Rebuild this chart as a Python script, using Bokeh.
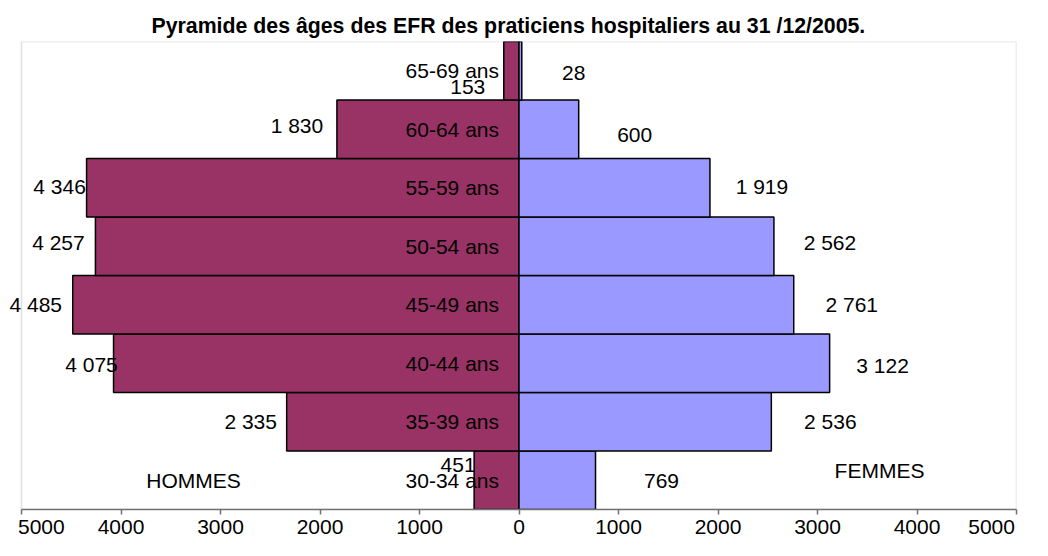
from bokeh.plotting import figure
from bokeh.models import (Range1d, FactorRange, FixedTicker, ColumnDataSource, LabelSet,
                          BoxAnnotation)
from bokeh.core.properties import value
from bokeh.embed import file_html
from bokeh.resources import INLINE

# ---- data (bottom -> top) ----
ages = ["30-34 ans", "35-39 ans", "40-44 ans", "45-49 ans",
        "50-54 ans", "55-59 ans", "60-64 ans", "65-69 ans"]
hommes = [451, 2335, 4075, 4485, 4257, 4346, 1830, 153]
femmes = [769, 2536, 3122, 2761, 2562, 1919, 600, 28]
hommes_labels = ["451", "2 335", "4 075", "4 485", "4 257", "4 346", "1 830", "153"]
femmes_labels = ["769", "2 536", "3 122", "2 761", "2 562", "1 919", "600", "28"]
tick_values = [-5000, -4000, -3000, -2000, -1000, 0, 1000, 2000, 3000, 4000, 5000]
sexes = ["HOMMES", "FEMMES"]
title_text = "Pyramide des âges des EFR des praticiens hospitaliers au 31 /12/2005."

# label placement tweaks (pixels, positive = right / down), imitating the original layout
h_dx = [-16, -36, -22, -37, -37, -27, -40, -36]
h_dy = [-15, 0, 1, 0, -4, -1, -4, 16]
f_dx = [66, 59, 53, 58, 56, 52, 56, 52]
f_dy = [1, 0, 2, 0, -4, -1, 6, 2]
sex_x = [-3271, 3623]
sex_dy = [0, -10]

FONT = "Liberation Sans"
FS = "21px"
MEN = "#993366"
WOMEN = "#9999FF"

# layout: plot box from x=21 to x=1016 px; frame extends a bit further left
# so that labels overlapping the box's left edge are not clipped
XMIN, XMAX = -5000, 5000
BOX_LEFT, BOX_RIGHT, FRAME_LEFT = 21, 1016, 2
px_per_unit = (BOX_RIGHT - BOX_LEFT) / (XMAX - XMIN)
x_start = XMIN - (BOX_LEFT - FRAME_LEFT) / px_per_unit

src = ColumnDataSource(dict(
    age=ages,
    h_neg=[-v for v in hommes],
    f=femmes,
    h_lab=hommes_labels,
    f_lab=femmes_labels,
    h_dx=h_dx, h_dy=[-d for d in h_dy],
    f_dx=f_dx, f_dy=[-d for d in f_dy],
    zero=[0] * len(ages),
))
sex_src = ColumnDataSource(dict(x=sex_x, y=[ages[0]] * 2, text=sexes,
                                dy=[-d for d in sex_dy]))

p = figure(width=1032, height=540, output_backend="svg", toolbar_location=None,
           x_range=Range1d(x_start, XMAX), y_range=FactorRange(*ages),
           y_axis_location=None, tools="")
p.min_border_left = FRAME_LEFT
p.min_border_right = 1032 - BOX_RIGHT
p.min_border_top = 41
p.min_border_bottom = 29

p.title.text = title_text
p.title.text_font = FONT
p.title.text_font_size = "21.3px"
p.title.text_font_style = "bold"
p.title.text_color = "black"
p.title.align = "left"
p.title.offset = 151 - FRAME_LEFT
p.title.standoff = 8

p.grid.visible = False
p.outline_line_color = None
p.background_fill_color = "white"
p.border_fill_color = "white"

# plot-area border (grey box from -5000 to 5000)
p.add_layout(BoxAnnotation(left=XMIN, right=XMAX, fill_color=None,
                           line_color="#999999", line_width=1.5, level="underlay"))

# bars
p.hbar(y="age", left="h_neg", right="zero", height=1.0, source=src,
       fill_color=MEN, line_color="black", line_width=1.5)
p.hbar(y="age", left="zero", right="f", height=1.0, source=src,
       fill_color=WOMEN, line_color="black", line_width=1.5)

common = dict(text_baseline="middle", text_font=value(FONT), text_font_size=value(FS),
              text_color="black")

# value labels
p.add_layout(LabelSet(x="h_neg", y="age", text="h_lab", source=src,
                      x_offset="h_dx", y_offset="h_dy", text_align="center", **common))
p.add_layout(LabelSet(x="f", y="age", text="f_lab", source=src,
                      x_offset="f_dx", y_offset="f_dy", text_align="center", **common))
# age labels
p.add_layout(LabelSet(x="zero", y="age", text="age", source=src,
                      x_offset=-20, y_offset=0, text_align="right", **common))
# sex labels
p.add_layout(LabelSet(x="x", y="y", text="text", source=sex_src,
                      x_offset=0, y_offset="dy", text_align="center", **common))

# x axis
nb = "\u00a0"
overrides = {t: str(abs(t)) for t in tick_values}
overrides[tick_values[0]] = nb * 3 + str(abs(tick_values[0]))
overrides[tick_values[-1]] = str(abs(tick_values[-1])) + nb * 3
ax = p.xaxis[0]
ax.bounds = (XMIN, XMAX)
ax.ticker = FixedTicker(ticks=tick_values)
ax.major_label_overrides = overrides
ax.major_label_text_font = FONT
ax.major_label_text_font_size = FS
ax.major_label_text_color = "black"
ax.major_label_standoff = 0
ax.major_tick_out = 5
ax.major_tick_in = 0
ax.minor_tick_out = 0
ax.minor_tick_in = 0
ax.axis_line_color = "#707070"
ax.axis_line_width = 1.5
ax.major_tick_line_color = "#707070"
ax.major_tick_line_width = 1.5

open("out.html", "w").write(file_html(p, INLINE))
